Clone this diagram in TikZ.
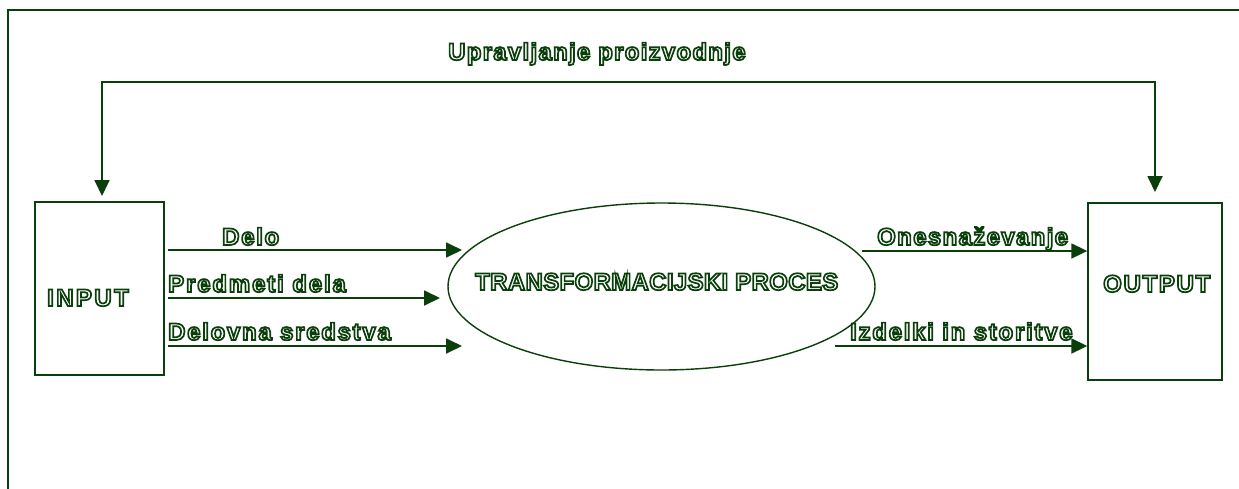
\documentclass[tikz,border=0pt]{standalone}
\usepackage{fontspec}
\setmainfont{Liberation Sans}
\usetikzlibrary{arrows.meta,shapes.geometric}
\definecolor{dkgreen}{RGB}{10,62,10}
% outlined lettering: stroke the glyph contours only, with the given tracking
\newcommand{\hollow}[2]{{\addfontfeature{LetterSpace=#1}\special{pdf:literal direct 1 Tr 1.7 w}#2\special{pdf:literal direct 0 Tr}}}
\tikzset{
  frame/.style={draw=dkgreen, line width=1.6pt},
  flow/.style={draw=dkgreen, line width=1.8pt, -{Triangle[length=16pt,width=15pt]}},
  feedback/.style={draw=dkgreen, line width=1.8pt,
    {Triangle[length=16pt,width=15pt]}-{Triangle[length=16pt,width=15pt]}},
  lbl/.style={inner sep=0pt, text=dkgreen, font=\fontsize{24}{24}\selectfont\bfseries},
  unitbox/.style={draw=dkgreen, line width=1.4pt, inner sep=0pt},
}
\begin{document}
\begin{tikzpicture}[x=1pt,y=-1pt]
\useasboundingbox (0,0) rectangle (1239,488);
\begin{scope}
  \clip (0,0) rectangle (1239,488);
  \draw[frame] (8,10) rectangle (1250,500);
\end{scope}

% blocks
\node[unitbox, minimum width=129pt, minimum height=173pt] (inbox) at (99.5,288.5) {};
\node[unitbox, minimum width=134pt, minimum height=177pt] (outbox) at (1155,291.5) {};
\node[draw=dkgreen, line width=1.4pt, ellipse, inner sep=0pt,
      minimum width=427pt, minimum height=167pt] (proc) at (661.5,286.5) {};

\node[lbl, anchor=base west] (intext) at (47,306) {\hollow{10}{INPUT}};
\node[lbl, anchor=base west] (outtext) at (1103,292) {\hollow{7}{OUTPUT}};
\node[lbl, anchor=base west] (proctext) at (475,290) {\hollow{1.4}{TRANSFORMACIJSKI PROCES}};

% inputs into the process
\coordinate (d1) at (168,250);
\coordinate (d2) at (168,298);
\coordinate (d3) at (168,346);
\coordinate (p1) at (462,250);
\coordinate (p2) at (440,298);
\coordinate (p3) at (462,346);
\draw[flow] (d1) -- (p1);
\draw[flow] (d2) -- (p2);
\draw[flow] (d3) -- (p3);
\node[lbl, anchor=base west] (delo) at (222,245) {\hollow{7}{Delo}};
\node[lbl, anchor=base west] (predmeti) at (168,292) {\hollow{7.7}{Predmeti dela}};
\node[lbl, anchor=base west] (sredstva) at (168,340) {\hollow{7.1}{Delovna sredstva}};

% outputs of the process
\coordinate (q1) at (862,251);
\coordinate (q2) at (835,346);
\coordinate (o1) at (outbox.west |- q1);
\coordinate (o2) at (outbox.west |- q2);
\draw[flow] (q1) -- (o1);
\draw[flow] (q2) -- (o2);
\node[lbl, anchor=base west] (onesn) at (877,245) {\hollow{5.6}{Onesnaževanje}};
\node[lbl, anchor=base west] (izdelki) at (850,340) {\hollow{7.2}{Izdelki in storitve}};

% production control loop
\coordinate (fin) at (102,196);
\coordinate (fout) at (1155,192);
\coordinate (c1) at (102,82);
\coordinate (c2) at (1155,82);
\draw[feedback] (fin) -- (c1) -- (c2) -- (fout);
\node[lbl, anchor=base west] (upr) at (448,60) {\hollow{5.3}{Upravljanje proizvodnje}};
\end{tikzpicture}
\end{document}
